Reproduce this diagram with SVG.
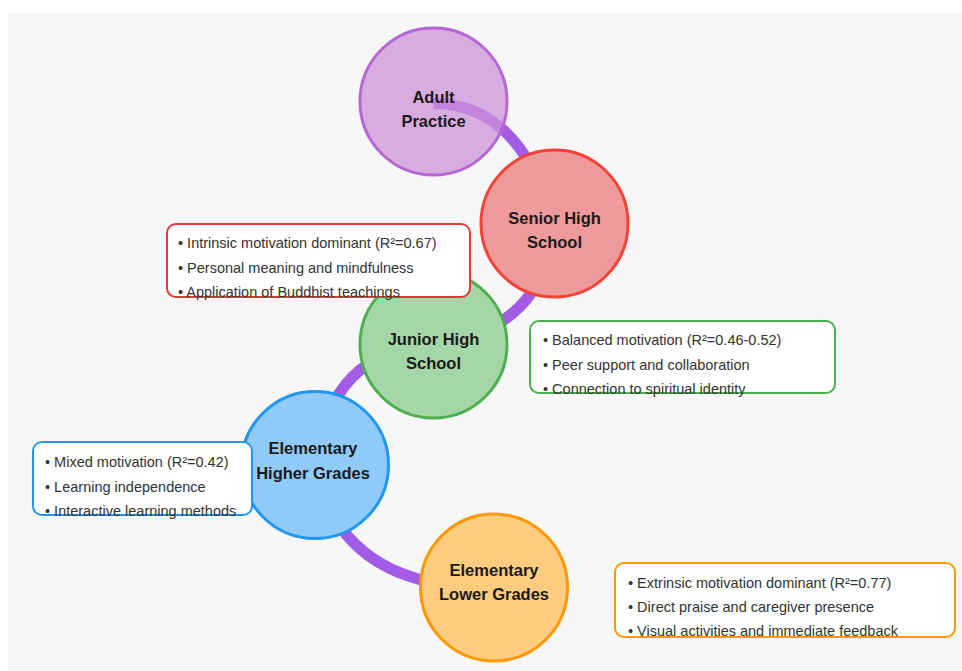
<svg xmlns="http://www.w3.org/2000/svg" width="962" height="671" viewBox="0 0 962 671">
<style>
.lbl{font-family:"Liberation Sans",Arial,sans-serif;font-size:16.5px;font-weight:bold;fill:#1a1a1a;text-anchor:middle}
.txt{font-family:"Liberation Sans",Arial,sans-serif;font-size:14.5px;fill:#333}
.box{fill:#fff;stroke-width:2}
.node{stroke-width:3}
</style>
<rect x="0" y="0" width="962" height="671" fill="#fff"/>
<rect x="8" y="13" width="954" height="658" fill="#f7f7f7"/>
<g id="connectors" fill="none" stroke="#a25ce6" stroke-width="11">
<path d="M433.5,103.5 Q520,103.5 554.5,223.5"/>
<path d="M554.5,223.5 Q545,330 433.5,344.5"/>
<path d="M433.5,344.5 Q330,350 315,465"/>
<path d="M315,465 Q340,590 494,587.5"/>
</g>
<g id="adult">
<circle class="node" cx="433.5" cy="101.5" r="73.5" fill="#ce93d8" fill-opacity="0.75" stroke="#b767d3"/>
<text class="lbl" x="433.5" y="103">Adult</text>
<text class="lbl" x="433.5" y="127">Practice</text>
</g>
<g id="senior">
<circle class="node" cx="554.5" cy="223.5" r="73.5" fill="#ef9a9a" stroke="#f44336"/>
<text class="lbl" x="554.5" y="224">Senior High</text>
<text class="lbl" x="554.5" y="248">School</text>
</g>
<g id="junior">
<circle class="node" cx="433.5" cy="344.5" r="73.5" fill="#a5d6a7" stroke="#4caf50"/>
<text class="lbl" x="433.5" y="345">Junior High</text>
<text class="lbl" x="433.5" y="369">School</text>
</g>
<g id="elem-higher">
<circle class="node" cx="315" cy="465" r="73.5" fill="#90caf9" stroke="#2196f3"/>
<text class="lbl" x="313" y="454">Elementary</text>
<text class="lbl" x="313" y="479">Higher Grades</text>
</g>
<g id="elem-lower">
<circle class="node" cx="494" cy="587.5" r="73.5" fill="#ffcc80" stroke="#ff9800"/>
<text class="lbl" x="494" y="576">Elementary</text>
<text class="lbl" x="494" y="600">Lower Grades</text>
</g>
<g id="senior-notes">
<rect class="box" x="167" y="224" width="303" height="73" rx="9" stroke="#e53935"/>
<text class="txt" x="178" y="248">• Intrinsic motivation dominant (R²=0.67)</text>
<text class="txt" x="178" y="272.5">• Personal meaning and mindfulness</text>
<text class="txt" x="178" y="297">• Application of Buddhist teachings</text>
</g>
<g id="junior-notes">
<rect class="box" x="530" y="321" width="305" height="72" rx="9" stroke="#4caf50"/>
<text class="txt" x="543" y="345">• Balanced motivation (R²=0.46-0.52)</text>
<text class="txt" x="543" y="369.5">• Peer support and collaboration</text>
<text class="txt" x="543" y="394">• Connection to spiritual identity</text>
</g>
<g id="higher-notes">
<rect class="box" x="33" y="442" width="219" height="73" rx="9" stroke="#2196f3"/>
<text class="txt" x="45" y="467">• Mixed motivation (R²=0.42)</text>
<text class="txt" x="45" y="491.5">• Learning independence</text>
<text class="txt" x="45" y="516">• Interactive learning methods</text>
</g>
<g id="lower-notes">
<rect class="box" x="615" y="563" width="340" height="74" rx="9" stroke="#ff9800"/>
<text class="txt" x="628" y="588">• Extrinsic motivation dominant (R²=0.77)</text>
<text class="txt" x="628" y="612">• Direct praise and caregiver presence</text>
<text class="txt" x="628" y="636">• Visual activities and immediate feedback</text>
</g>
</svg>
